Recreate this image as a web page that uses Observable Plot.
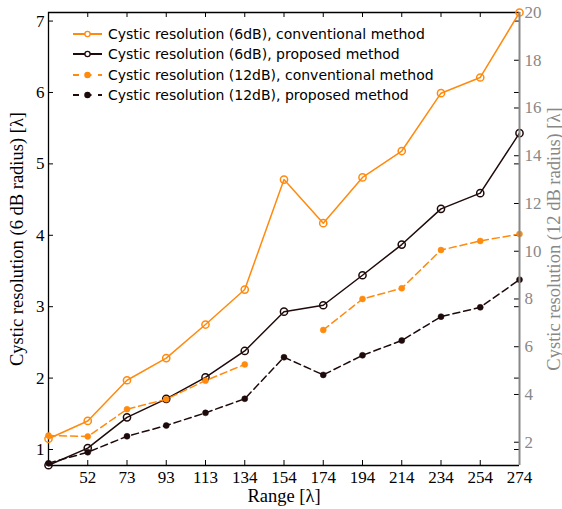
<!DOCTYPE html>
<html><head><meta charset="utf-8">
<script src="https://cdn.jsdelivr.net/npm/d3@7"></script>
<script src="https://cdn.jsdelivr.net/npm/@observablehq/plot@0.6"></script>
<style>
body{margin:0;background:#fff;}
#wrap{position:relative;width:562px;height:509px;}
#legend{position:absolute;left:72px;top:24px;font-family:"DejaVu Sans";font-size:14px;color:#000;}
.row{display:flex;align-items:center;height:20.3px;white-space:nowrap;}
.row svg{margin-right:5px;}
#wrap svg g[aria-label="x-axis label"], #wrap svg g[aria-label="y-axis label"]{font-size:18.5px;}
</style></head><body>
<div id="wrap"></div>
<script>
// x positions (evenly spaced) and their tick labels
const rangeIndex = [0,1,2,3,4,5,6,7,8,9,10,11,12];
const tickIndex = [1,2,3,4,5,6,7,8,9,10,11,12];
const rangeLabels = ["52","73","93","113","134","154","174","194","214","234","254","274"];
// left axis series (6 dB radius)
const conv6 = [1.15,1.40,1.97,2.28,2.75,3.24,4.78,4.17,4.81,5.18,5.99,6.21,7.12];
const prop6 = [0.78,1.02,1.45,1.71,2.01,2.38,2.93,3.02,3.44,3.87,4.37,4.59,5.43];
// right axis series (12 dB radius)
const conv12 = [2.28,2.24,3.38,3.80,4.58,5.26,null,6.70,8.00,8.45,10.05,10.43,10.72];
const prop12 = [1.12,1.58,2.25,2.70,3.23,3.82,5.56,4.82,5.64,6.26,7.26,7.65,8.81];
const leftTicks = [1,2,3,4,5,6,7];
const rightTicks = [2,4,6,8,10,12,14,16,18,20];
const leftDomain = [0.776, 7.12];
const rightDomain = [1.025, 20];
const seriesNames = [
  "Cystic resolution (6dB), conventional method",
  "Cystic resolution (6dB), proposed method",
  "Cystic resolution (12dB), conventional method",
  "Cystic resolution (12dB), proposed method"
];
const ORANGE = "#ff8a0d", DARK = "#1e0a0a", GRAY = "#888888";

const toLeft = v => (v == null ? NaN : leftDomain[0] + (v - rightDomain[0]) * (leftDomain[1]-leftDomain[0])/(rightDomain[1]-rightDomain[0]));
const fromLeft = y => rightDomain[0] + (y - leftDomain[0]) * (rightDomain[1]-rightDomain[0])/(leftDomain[1]-leftDomain[0]);

const series = [
  {name: seriesNames[0], vals: conv6, conv: false, color: ORANGE, dash: null, filled: false},
  {name: seriesNames[1], vals: prop6, conv: false, color: DARK, dash: null, filled: false},
  {name: seriesNames[2], vals: conv12, conv: true, color: ORANGE, dash: "7,4", filled: true},
  {name: seriesNames[3], vals: prop12, conv: true, color: DARK, dash: "7,4", filled: true}
];

const W = 562, H = 509, mL = 48, mR = 43, mT = 12, mB = 44;
const fw = W - mL - mR, fh = H - mT - mB;

const marks = [];
for (const s of series) {
  const rows = rangeIndex.map((i, k) => ({i, v: s.conv ? toLeft(s.vals[k]) : s.vals[k]}));
  marks.push(Plot.line(rows, {x: "i", y: "v", stroke: s.color, strokeWidth: 1.5, strokeDasharray: s.dash || undefined}));
  const pts = rows.filter(d => Number.isFinite(d.v));
  if (s.filled) marks.push(Plot.dot(pts, {x: "i", y: "v", r: 3, fill: s.color, stroke: s.color, strokeWidth: 0.5}));
  else marks.push(Plot.dot(pts, {x: "i", y: "v", r: 3.6, fill: "none", stroke: s.color, strokeWidth: 1.5}));
}

const chart = Plot.plot({
  width: W, height: H,
  marginLeft: mL, marginRight: mR, marginTop: mT, marginBottom: mB,
  style: {fontFamily: "'Liberation Serif', serif", fontSize: "17px", background: "#fff", color: "#000"},
  x: {domain: [0, 12]},
  y: {domain: leftDomain},
  marks: [
    // spines
    Plot.ruleY([leftDomain[0]], {stroke: "#000", strokeWidth: 1.3}),
    Plot.ruleY([leftDomain[1]], {stroke: "#000", strokeWidth: 1.3}),
    Plot.ruleX([0], {stroke: "#000", strokeWidth: 1.3}),
    // inward ticks
    Plot.tickX(tickIndex, {x: d => d, insetTop: fh - 5, stroke: "#000"}),
    Plot.tickX(tickIndex, {x: d => d, insetBottom: fh - 5, stroke: "#000"}),
    Plot.tickY(leftTicks, {y: d => d, insetRight: fw - 5, stroke: "#000"}),
    Plot.tickY(leftTicks, {y: d => d, insetLeft: fw - 5, stroke: "#000"}),
    Plot.tickY(rightTicks, {y: d => toLeft(d), insetLeft: fw - 5, stroke: "#000"}),
    ...marks,
    Plot.ruleX([12], {stroke: GRAY, strokeWidth: 2}),
    Plot.axisX({ticks: tickIndex, tickSize: 0, tickPadding: 5, tickFormat: d => rangeLabels[d - 1],
      label: "Range [λ]", labelAnchor: "center", labelArrow: "none", labelOffset: 36}),
    Plot.axisY({ticks: leftTicks, tickSize: 0, tickPadding: 4, tickFormat: d => String(d),
      label: "Cystic resolution (6 dB radius) [λ]", labelAnchor: "center", labelArrow: "none", labelOffset: 39}),
    Plot.axisY({anchor: "right", ticks: rightTicks.map(toLeft), tickSize: 0, tickPadding: 5,
      tickFormat: d => String(Math.round(fromLeft(d))), color: GRAY,
      label: "Cystic resolution (12 dB radius) [λ]", labelAnchor: "center", labelArrow: "none", labelOffset: 40})
  ]
});

const wrap = document.getElementById("wrap");
wrap.appendChild(chart);

// legend overlay
const legend = document.createElement("div");
legend.id = "legend";
for (const s of series) {
  const row = document.createElement("div");
  row.className = "row";
  const ns = "http://www.w3.org/2000/svg";
  const svg = document.createElementNS(ns, "svg");
  svg.setAttribute("width", 31); svg.setAttribute("height", 20);
  const ln = document.createElementNS(ns, "line");
  ln.setAttribute("x1", 1); ln.setAttribute("x2", 30); ln.setAttribute("y1", 10); ln.setAttribute("y2", 10);
  ln.setAttribute("stroke", s.color); ln.setAttribute("stroke-width", 2);
  if (s.dash) ln.setAttribute("stroke-dasharray", "6,6.5");
  svg.appendChild(ln);
  const c = document.createElementNS(ns, "circle");
  c.setAttribute("cx", 15.5); c.setAttribute("cy", 10); c.setAttribute("r", 2.6);
  c.setAttribute("fill", s.filled ? s.color : "#fff"); c.setAttribute("stroke", s.color); c.setAttribute("stroke-width", 1.3);
  svg.appendChild(c);
  row.appendChild(svg);
  const t = document.createElement("span");
  t.textContent = s.name;
  row.appendChild(t);
  legend.appendChild(row);
}
wrap.appendChild(legend);
</script>
</body></html>
